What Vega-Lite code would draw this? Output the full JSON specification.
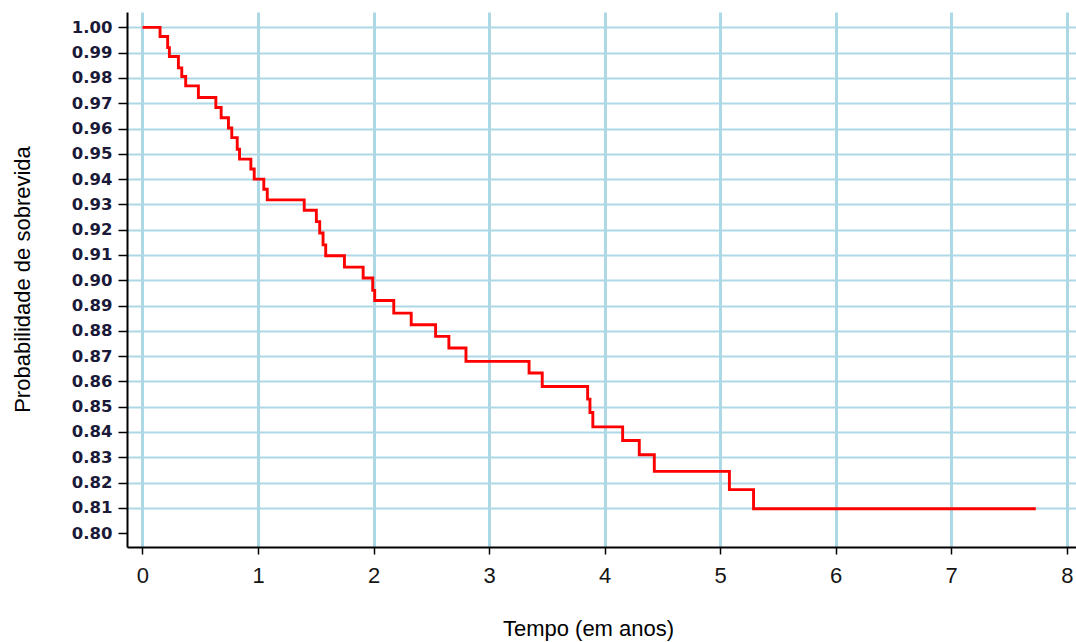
{
  "$schema": "https://vega.github.io/schema/vega-lite/v6.json",
  "width": 949,
  "height": 535,
  "autosize": {"type": "none"},
  "padding": {"top": 12, "left": 127, "right": 0, "bottom": 95},
  "background": "white",
  "config": {
    "view": {"stroke": null},
    "axis": {
      "domainColor": "#000000",
      "domainWidth": 2,
      "tickColor": "#000000",
      "tickWidth": 1.5,
      "gridColor": "#add8e6",
      "labelFlush": false,
      "labelOverlap": false,
      "labelBound": false
    }
  },
  "data": {
    "values": [
      {"t": 0, "s": 1.0},
      {"t": 0.152, "s": 0.9964},
      {"t": 0.218, "s": 0.992},
      {"t": 0.233, "s": 0.9885},
      {"t": 0.311, "s": 0.984},
      {"t": 0.34, "s": 0.9806},
      {"t": 0.374, "s": 0.9769},
      {"t": 0.484, "s": 0.9723},
      {"t": 0.635, "s": 0.9683},
      {"t": 0.681, "s": 0.9643},
      {"t": 0.744, "s": 0.9602},
      {"t": 0.773, "s": 0.9564},
      {"t": 0.82, "s": 0.9518},
      {"t": 0.84, "s": 0.9479},
      {"t": 0.938, "s": 0.944},
      {"t": 0.967, "s": 0.94},
      {"t": 1.05, "s": 0.936},
      {"t": 1.08, "s": 0.9318},
      {"t": 1.4, "s": 0.9277},
      {"t": 1.505, "s": 0.9232},
      {"t": 1.534, "s": 0.9187},
      {"t": 1.563, "s": 0.914},
      {"t": 1.586, "s": 0.9097},
      {"t": 1.748, "s": 0.9052},
      {"t": 1.91, "s": 0.9009},
      {"t": 1.993, "s": 0.896},
      {"t": 2.01, "s": 0.892},
      {"t": 2.175, "s": 0.887},
      {"t": 2.326, "s": 0.8824},
      {"t": 2.537, "s": 0.8778},
      {"t": 2.652, "s": 0.8732},
      {"t": 2.8, "s": 0.8679},
      {"t": 3.346, "s": 0.8633},
      {"t": 3.46, "s": 0.858},
      {"t": 3.853, "s": 0.853},
      {"t": 3.873, "s": 0.8477},
      {"t": 3.898, "s": 0.842},
      {"t": 4.156, "s": 0.8366},
      {"t": 4.3, "s": 0.831},
      {"t": 4.43, "s": 0.8244},
      {"t": 5.08, "s": 0.8172},
      {"t": 5.289, "s": 0.8096},
      {"t": 7.732, "s": 0.8096}
    ]
  },
  "mark": {"type": "line", "interpolate": "step-after", "color": "#ff0000", "strokeWidth": 2.9},
  "encoding": {
    "x": {
      "field": "t",
      "type": "quantitative",
      "scale": {"domain": [-0.134, 8.08], "nice": false, "zero": false},
      "axis": {
        "values": [0, 1, 2, 3, 4, 5, 6, 7, 8],
        "format": "d",
        "grid": true,
        "gridWidth": 3,
        "tickSize": 7,
        "labelPadding": 11,
        "labelFont": "Liberation Sans",
        "labelFontSize": 22,
        "labelColor": "#151515",
        "title": "Tempo (em anos)",
        "titleFont": "Liberation Sans",
        "titleFontSize": 22,
        "titleFontWeight": "normal",
        "titleColor": "#000000",
        "titleX": 461,
        "titleY": 81,
        "titleAlign": "center",
        "titleBaseline": "middle"
      }
    },
    "y": {
      "field": "s",
      "type": "quantitative",
      "scale": {"domain": [0.7945, 1.0061], "nice": false, "zero": false},
      "axis": {
        "values": [0.8, 0.81, 0.82, 0.83, 0.84, 0.85, 0.86, 0.87, 0.88, 0.89, 0.9, 0.91, 0.92, 0.93, 0.94, 0.95, 0.96, 0.97, 0.98, 0.99, 1.0],
        "format": ".2f",
        "grid": true,
        "gridWidth": 2,
        "gridColor": {"condition": {"test": "datum.value < 0.805", "value": "transparent"}, "value": "#add8e6"},
        "tickSize": 9,
        "labelPadding": 6,
        "labelFont": "DejaVu Sans",
        "labelFontWeight": "bold",
        "labelFontSize": 16.5,
        "labelColor": "#1a1a38",
        "title": "Probabilidade de sobrevida",
        "titleFont": "Liberation Sans",
        "titleFontSize": 22,
        "titleFontWeight": "normal",
        "titleColor": "#000000",
        "titleX": -105,
        "titleY": 267,
        "titleAngle": 270,
        "titleAlign": "center",
        "titleBaseline": "middle"
      }
    }
  }
}
